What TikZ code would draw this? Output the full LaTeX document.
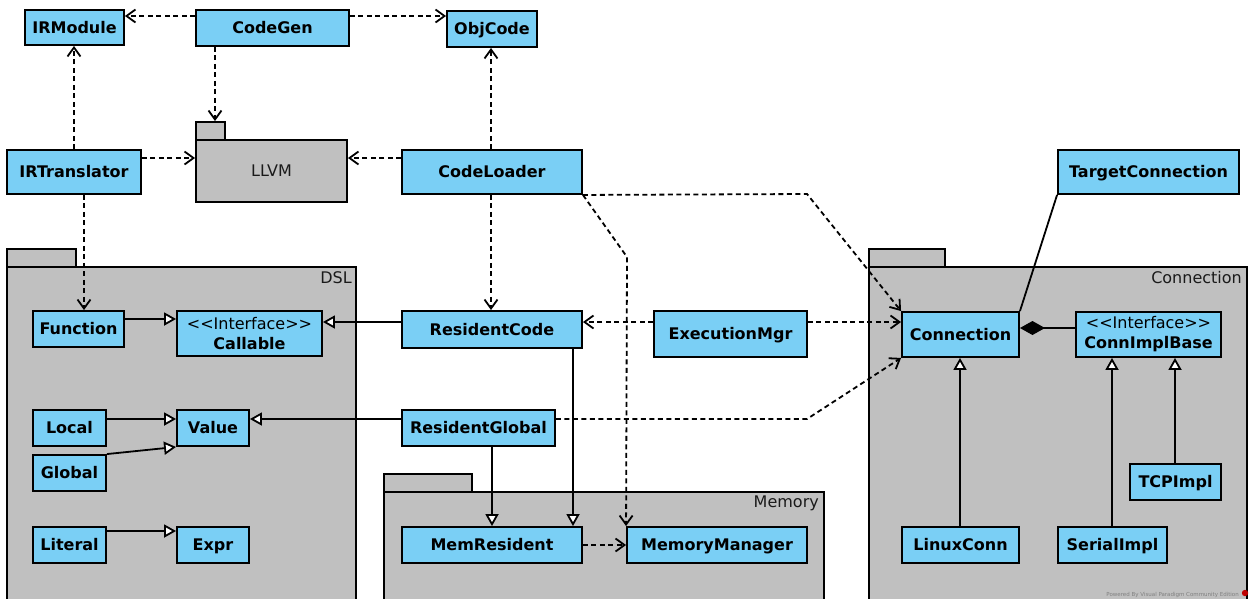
\documentclass[tikz,border=0pt]{standalone}
\usepackage{fontspec}
\newfontfamily\dv{DejaVu Sans}
\usetikzlibrary{arrows.meta,calc}
\definecolor{clsblue}{HTML}{7ACFF5}
\definecolor{pkggray}{HTML}{C0C0C0}
\definecolor{txtdark}{HTML}{1A1A1A}
\tikzset{
  cls/.style={draw=black, line width=1.9pt, fill=clsblue, inner sep=0pt,
    font=\dv\bfseries\fontsize{16}{20}\selectfont, text height=11.7pt, text depth=0pt},
  iface/.style={draw=black, line width=1.9pt, fill=clsblue, inner sep=0pt,
    font=\dv\fontsize{16}{20}\selectfont, align=center},
  pkg/.style={draw=black, line width=1.9pt, fill=pkggray, inner sep=0pt},
  pkglabel/.style={font=\dv\fontsize{16}{20}\selectfont, text=txtdark, anchor=base east, inner sep=0pt},
  dep/.style={line width=1.8pt, dash pattern=on 5pt off 3.5pt, -{Straight Barb[length=9pt,width=13pt]}},
  gen/.style={line width=1.8pt, -{Triangle[open,fill=white,length=12pt,width=13pt]}},
  assoc/.style={line width=1.8pt},
  comp/.style={line width=1.8pt, -{Diamond[length=25pt,width=14pt]}}
}
\begin{document}
\begin{tikzpicture}[x=1pt,y=-1pt]
\useasboundingbox (0,0) rectangle (1257,598);
\fill[white] (0,0) rectangle (1257,598);

% ---------- packages ----------
\node[pkg, minimum width=29pt, minimum height=18pt] (LLVMtab) at (210.5,131) {};
\node[pkg, minimum width=151pt, minimum height=62pt, font=\dv\fontsize{16}{20}\selectfont, text=txtdark] (LLVM) at (271.5,171) {LLVM};

\node[pkg, minimum width=69pt, minimum height=18pt] (DSLtab) at (41.5,258) {};
\node[pkg, minimum width=349pt, minimum height=345pt] (DSL) at (181.5,439.5) {};
\node[pkglabel] (DSLlabel) at (352,283) {DSL};

\node[pkg, minimum width=88pt, minimum height=18pt] (Memtab) at (428,483) {};
\node[pkg, minimum width=440pt, minimum height=120pt] (Memory) at (604,552) {};
\node[pkglabel] (Memlabel) at (819,507.5) {Memory};

\node[pkg, minimum width=76pt, minimum height=18pt] (Conntab) at (907,258) {};
\node[pkg, minimum width=378pt, minimum height=345pt] (ConnPkg) at (1058,439.5) {};
\node[pkglabel] (Connlabel) at (1242,283) {Connection};

% ---------- classes ----------
\node[cls, minimum width=99pt, minimum height=35pt] (IRModule) at (74.5,27.5) {IRModule};
\node[cls, minimum width=153pt, minimum height=36pt] (CodeGen) at (272.5,28) {CodeGen};
\node[cls, minimum width=90pt, minimum height=36pt] (ObjCode) at (492,29) {ObjCode};
\node[cls, minimum width=134pt, minimum height=44pt] (IRTranslator) at (74,172) {IRTranslator};
\node[cls, minimum width=180pt, minimum height=44pt] (CodeLoader) at (492,172) {CodeLoader};
\node[cls, minimum width=181pt, minimum height=44pt] (TargetConnection) at (1148.5,172) {TargetConnection};

\node[cls, minimum width=91pt, minimum height=36pt] (Function) at (78.5,329) {Function};
\node[iface, minimum width=145pt, minimum height=45pt] (Callable) at (249.5,333.5) {<<Interface>>\\\bfseries Callable};
\node[cls, minimum width=73pt, minimum height=36pt] (Local) at (69.5,428) {Local};
\node[cls, minimum width=72pt, minimum height=36pt] (Value) at (213,428) {Value};
\node[cls, minimum width=73pt, minimum height=36pt] (Global) at (69.5,473) {Global};
\node[cls, minimum width=73pt, minimum height=36pt] (Literal) at (69.5,545) {Literal};
\node[cls, minimum width=72pt, minimum height=36pt] (Expr) at (213,545) {Expr};

\node[cls, minimum width=180pt, minimum height=37pt] (ResidentCode) at (492,329.5) {ResidentCode};
\node[cls, minimum width=153pt, minimum height=46pt] (ExecutionMgr) at (730.5,334) {ExecutionMgr};
\node[cls, minimum width=153pt, minimum height=36pt] (ResidentGlobal) at (478.5,428) {ResidentGlobal};
\node[cls, minimum width=180pt, minimum height=36pt] (MemResident) at (492,545) {MemResident};
\node[cls, minimum width=180pt, minimum height=36pt] (MemoryManager) at (717,545) {MemoryManager};

\node[cls, minimum width=117pt, minimum height=45pt] (Connection) at (960.5,334.5) {Connection};
\node[iface, minimum width=145pt, minimum height=45pt] (ConnImplBase) at (1148.5,334.5) {<<Interface>>\\\bfseries ConnImplBase};
\node[cls, minimum width=117pt, minimum height=36pt] (LinuxConn) at (960.5,545) {LinuxConn};
\node[cls, minimum width=109pt, minimum height=36pt] (SerialImpl) at (1112.5,545) {SerialImpl};
\node[cls, minimum width=91pt, minimum height=36pt] (TCPImpl) at (1175.5,482) {TCPImpl};

% ---------- bend points ----------
\coordinate (bMM) at (627,257);
\coordinate (bCL) at (807,194);
\coordinate (bRG) at (807,419);

% ---------- dependencies ----------
\draw[dep] (CodeGen.west |- 0,16) -- (IRModule.east |- 0,16);
\draw[dep] (CodeGen.east |- 0,16) -- (ObjCode.west |- 0,16);
\draw[dep] (CodeGen.south -| 215,0) -- (LLVMtab.north -| 215,0);
\draw[dep] (IRTranslator.north -| 74,0) -- (IRModule.south -| 74,0);
\draw[dep] (IRTranslator.east |- 0,158) -- (LLVM.west |- 0,158);
\draw[dep] (CodeLoader.west |- 0,158) -- (LLVM.east |- 0,158);
\draw[dep] (CodeLoader.north -| 491,0) -- (ObjCode.south -| 491,0);
\draw[dep] (IRTranslator.south -| 84,0) -- (Function.north -| 84,0);
\draw[dep] (CodeLoader.south -| 491,0) -- (ResidentCode.north -| 491,0);
\draw[dep] (CodeLoader.south east) -- (bMM) -- (MemoryManager.north west);
\draw[dep] (CodeLoader.south east) -- (bCL) -- (Connection.north west);
\draw[dep] (ExecutionMgr.west |- 0,322) -- (ResidentCode.east |- 0,322);
\draw[dep] (ExecutionMgr.east |- 0,322) -- (Connection.west |- 0,322);
\draw[dep] (ResidentGlobal.east |- 0,419) -- (bRG) -- (Connection.south west);
\draw[dep] (MemResident.east |- 0,545) -- (MemoryManager.west |- 0,545);

% ---------- generalizations ----------
\draw[gen] (Function.east |- 0,319) -- (Callable.west |- 0,319);
\draw[gen] (ResidentCode.west |- 0,322) -- (Callable.east |- 0,322);
\draw[gen] (Local.east |- 0,419) -- (Value.west |- 0,419);
\draw[gen] (ResidentGlobal.west |- 0,419) -- (Value.east |- 0,419);
\draw[gen] (Global.north east) -- (Value.south west);
\draw[gen] (Literal.east |- 0,531) -- (Expr.west |- 0,531);
\draw[gen] (ResidentGlobal.south -| 492,0) -- (MemResident.north -| 492,0);
\draw[gen] (ResidentCode.south -| 573,0) -- (MemResident.north -| 573,0);
\draw[gen] (LinuxConn.north -| 960,0) -- (Connection.south -| 960,0);
\draw[gen] (SerialImpl.north -| 1112,0) -- (ConnImplBase.south -| 1112,0);
\draw[gen] (TCPImpl.north -| 1175,0) -- (ConnImplBase.south -| 1175,0);

% ---------- association / composition ----------
\draw[assoc] (TargetConnection.south west) -- (Connection.north east);
\draw[comp] (ConnImplBase.west |- 0,328) -- (Connection.east |- 0,328);

% ---------- watermark ----------
\node[anchor=base east, inner sep=0pt, font=\dv\fontsize{5.5}{6}\selectfont, text=gray] (wm) at (1239,596) {Powered By Visual Paradigm Community Edition};
\fill[red!75!black] (1245,593) circle (3.2);
\end{tikzpicture}
\end{document}
